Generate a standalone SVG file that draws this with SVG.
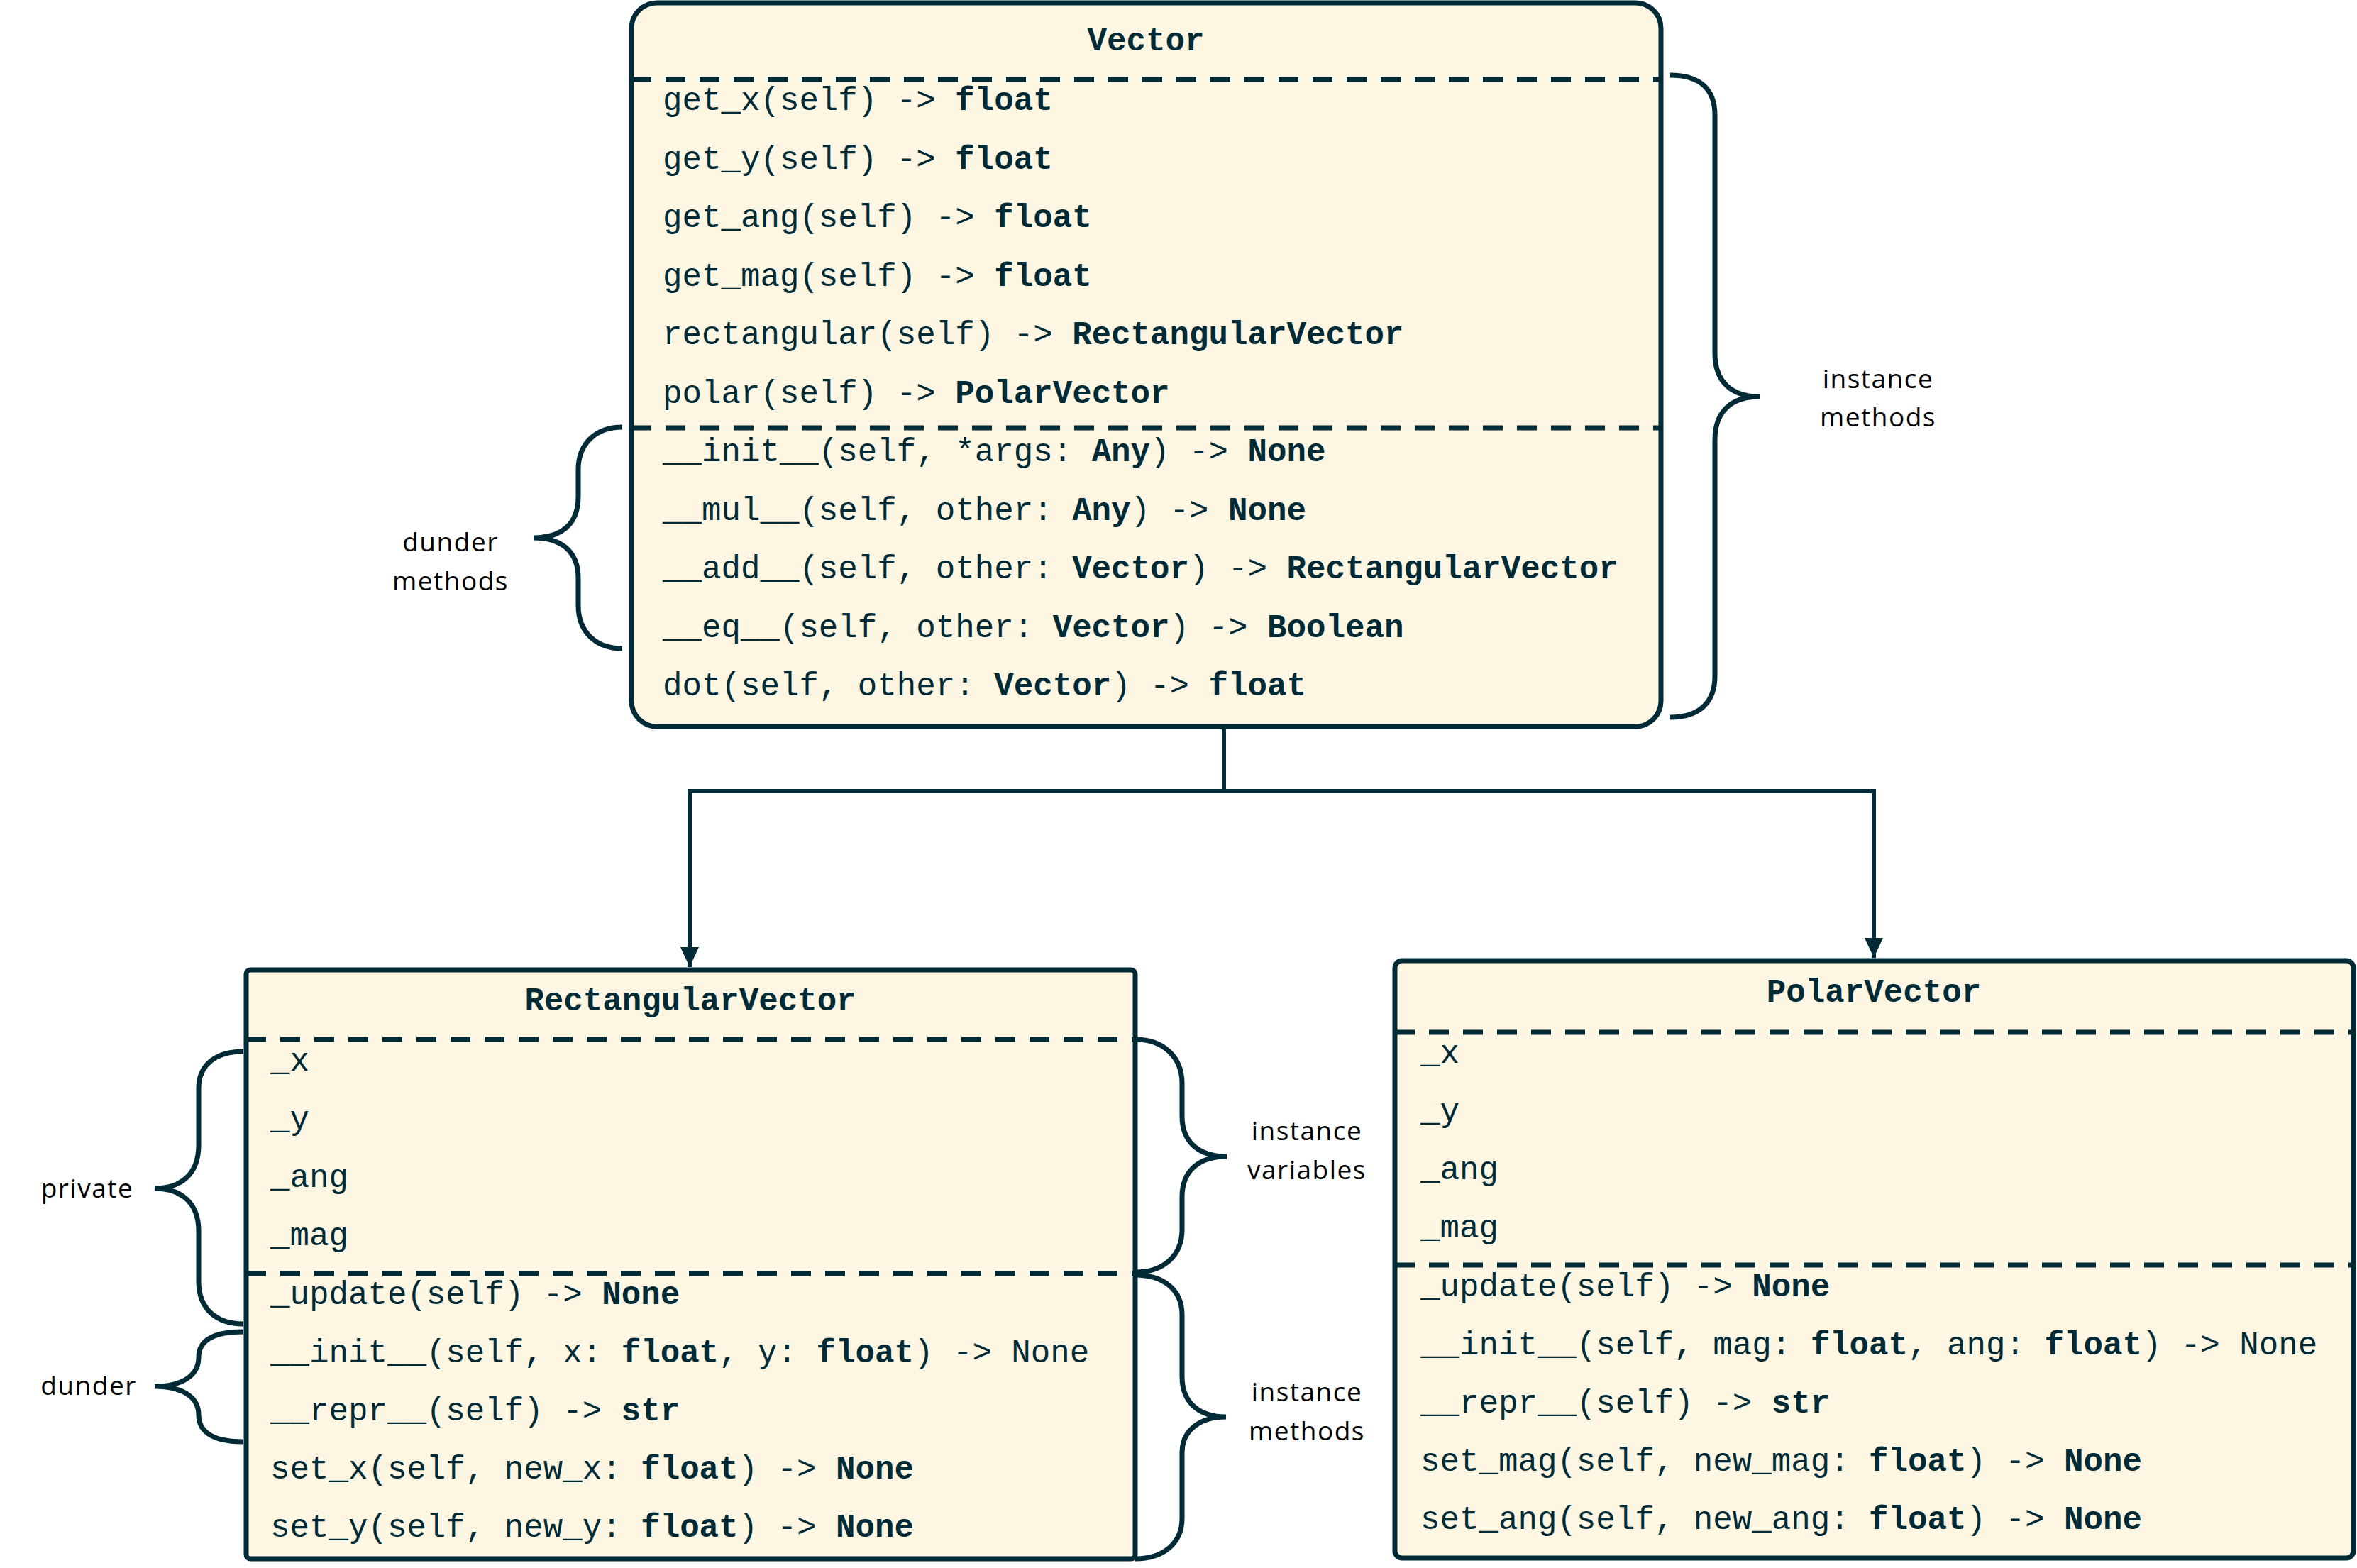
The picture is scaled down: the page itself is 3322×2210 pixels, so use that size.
<svg xmlns="http://www.w3.org/2000/svg" width="3322" height="2210" viewBox="0 0 3322 2210">
<style>
.box{fill:#FDF6E3;stroke:#002B36;stroke-width:7}
.dash{stroke:#002B36;stroke-width:7;stroke-dasharray:28 20;fill:none}
.code{font-family:"Liberation Mono","Courier New",monospace;font-size:45.8px;fill:#002B36}
.b{font-weight:bold}
.title{font-family:"Liberation Mono","Courier New",monospace;font-size:45.8px;font-weight:bold;fill:#002B36;text-anchor:middle}
.brace{fill:none;stroke:#002B36;stroke-width:7;stroke-linecap:butt}
.lbl{font-family:"Open Sans","Noto Sans",sans-serif;font-size:37px;letter-spacing:1.5px;fill:#000;text-anchor:middle}
.conn{fill:none;stroke:#002B36;stroke-width:6}
</style>
<defs>
<marker id="arr" markerUnits="userSpaceOnUse" markerWidth="30" markerHeight="30" viewBox="0 0 30 30" refX="28" refY="15" orient="auto">
<path d="M0,2 L28,15 L0,28 z" fill="#002B36"/>
</marker>
</defs>

<g id="connectors">
<path class="conn" d="M1725,1028 V1115 H972 V1363" marker-end="url(#arr)"/>
<path class="conn" d="M1725,1115 H2641 V1350" marker-end="url(#arr)"/>
</g>

<g id="Vector">
<rect class="box" x="890" y="4" width="1451" height="1020" rx="36"/>
<line class="dash" x1="890" y1="112" x2="2341" y2="112"/>
<line class="dash" x1="890" y1="603" x2="2341" y2="603"/>
<text class="title" x="1615" y="71">Vector</text>
<text class="code" x="934" y="155">get_x(self) -&gt; <tspan class="b">float</tspan></text>
<text class="code" x="934" y="237.5">get_y(self) -&gt; <tspan class="b">float</tspan></text>
<text class="code" x="934" y="320">get_ang(self) -&gt; <tspan class="b">float</tspan></text>
<text class="code" x="934" y="402.5">get_mag(self) -&gt; <tspan class="b">float</tspan></text>
<text class="code" x="934" y="485">rectangular(self) -&gt; <tspan class="b">RectangularVector</tspan></text>
<text class="code" x="934" y="567.5">polar(self) -&gt; <tspan class="b">PolarVector</tspan></text>
<text class="code" x="934" y="650">__init__(self, *args: <tspan class="b">Any</tspan>) -&gt; <tspan class="b">None</tspan></text>
<text class="code" x="934" y="732.5">__mul__(self, other: <tspan class="b">Any</tspan>) -&gt; <tspan class="b">None</tspan></text>
<text class="code" x="934" y="815">__add__(self, other: <tspan class="b">Vector</tspan>) -&gt; <tspan class="b">RectangularVector</tspan></text>
<text class="code" x="934" y="897.5">__eq__(self, other: <tspan class="b">Vector</tspan>) -&gt; <tspan class="b">Boolean</tspan></text>
<text class="code" x="934" y="980">dot(self, other: <tspan class="b">Vector</tspan>) -&gt; <tspan class="b">float</tspan></text>
</g>

<g id="RectangularVector">
<rect class="box" x="347" y="1367" width="1253" height="830" rx="6"/>
<line class="dash" x1="347" y1="1465" x2="1600" y2="1465"/>
<line class="dash" x1="347" y1="1795" x2="1600" y2="1795"/>
<text class="title" x="973" y="1424">RectangularVector</text>
<text class="code" x="381" y="1509">_x</text>
<text class="code" x="381" y="1591">_y</text>
<text class="code" x="381" y="1673">_ang</text>
<text class="code" x="381" y="1755">_mag</text>
<text class="code" x="381" y="1838">_update(self) -&gt; <tspan class="b">None</tspan></text>
<text class="code" x="381" y="1920">__init__(self, x: <tspan class="b">float</tspan>, y: <tspan class="b">float</tspan>) -&gt; None</text>
<text class="code" x="381" y="2002">__repr__(self) -&gt; <tspan class="b">str</tspan></text>
<text class="code" x="381" y="2084">set_x(self, new_x: <tspan class="b">float</tspan>) -&gt; <tspan class="b">None</tspan></text>
<text class="code" x="381" y="2166">set_y(self, new_y: <tspan class="b">float</tspan>) -&gt; <tspan class="b">None</tspan></text>
</g>

<g id="PolarVector">
<rect class="box" x="1966" y="1354" width="1351" height="842" rx="10"/>
<line class="dash" x1="1966" y1="1455" x2="3317" y2="1455"/>
<line class="dash" x1="1966" y1="1783" x2="3317" y2="1783"/>
<text class="title" x="2641" y="1412">PolarVector</text>
<text class="code" x="2002" y="1498">_x</text>
<text class="code" x="2002" y="1580">_y</text>
<text class="code" x="2002" y="1662">_ang</text>
<text class="code" x="2002" y="1744">_mag</text>
<text class="code" x="2002" y="1827">_update(self) -&gt; <tspan class="b">None</tspan></text>
<text class="code" x="2002" y="1909">__init__(self, mag: <tspan class="b">float</tspan>, ang: <tspan class="b">float</tspan>) -&gt; None</text>
<text class="code" x="2002" y="1991">__repr__(self) -&gt; <tspan class="b">str</tspan></text>
<text class="code" x="2002" y="2073">set_mag(self, new_mag: <tspan class="b">float</tspan>) -&gt; <tspan class="b">None</tspan></text>
<text class="code" x="2002" y="2155">set_ang(self, new_ang: <tspan class="b">float</tspan>) -&gt; <tspan class="b">None</tspan></text>
</g>

<g id="annotations">
<path class="brace" d="M877,602 C840,602 815,625 815,662 L815,700 C815,740 790,758 752,758 C790,758 815,776 815,815 L815,853 C815,891 840,914 877,914"/>
<text class="lbl" x="635" y="777">dunder</text>
<text class="lbl" x="635" y="832">methods</text>

<path class="brace" d="M2354,106 C2395,106 2417,125 2417,162 L2417,498 C2417,538 2440,559 2480,559 C2440,559 2417,580 2417,620 L2417,953 C2417,990 2395,1011 2354,1011"/>
<text class="lbl" x="2647" y="547">instance</text>
<text class="lbl" x="2647" y="601">methods</text>

<path class="brace" d="M343,1482 C305,1482 280,1500 280,1534 L280,1614 C280,1655 255,1675 218,1675 C255,1675 280,1695 280,1735 L280,1806 C280,1845 305,1866 343,1866"/>
<text class="lbl" x="123" y="1688">private</text>

<path class="brace" d="M343,1877 C300,1877 280,1890 280,1913 C280,1940 255,1954 218,1954 C255,1954 280,1968 280,1994 C280,2018 300,2032 343,2032"/>
<text class="lbl" x="125" y="1966">dunder</text>

<path class="brace" d="M1600,1465 C1640,1465 1666,1490 1666,1527 L1666,1573 C1666,1610 1690,1630 1729,1630 C1690,1630 1666,1650 1666,1687 L1666,1733 C1666,1770 1640,1793 1600,1793"/>
<text class="lbl" x="1842" y="1607">instance</text>
<text class="lbl" x="1842" y="1662">variables</text>

<path class="brace" d="M1600,1797 C1640,1797 1666,1818 1666,1853 L1666,1940 C1666,1977 1690,1997 1728,1997 C1690,1997 1666,2017 1666,2047 L1666,2140 C1666,2175 1640,2197 1600,2197"/>
<text class="lbl" x="1842" y="1975">instance</text>
<text class="lbl" x="1842" y="2030">methods</text>
</g>
</svg>
